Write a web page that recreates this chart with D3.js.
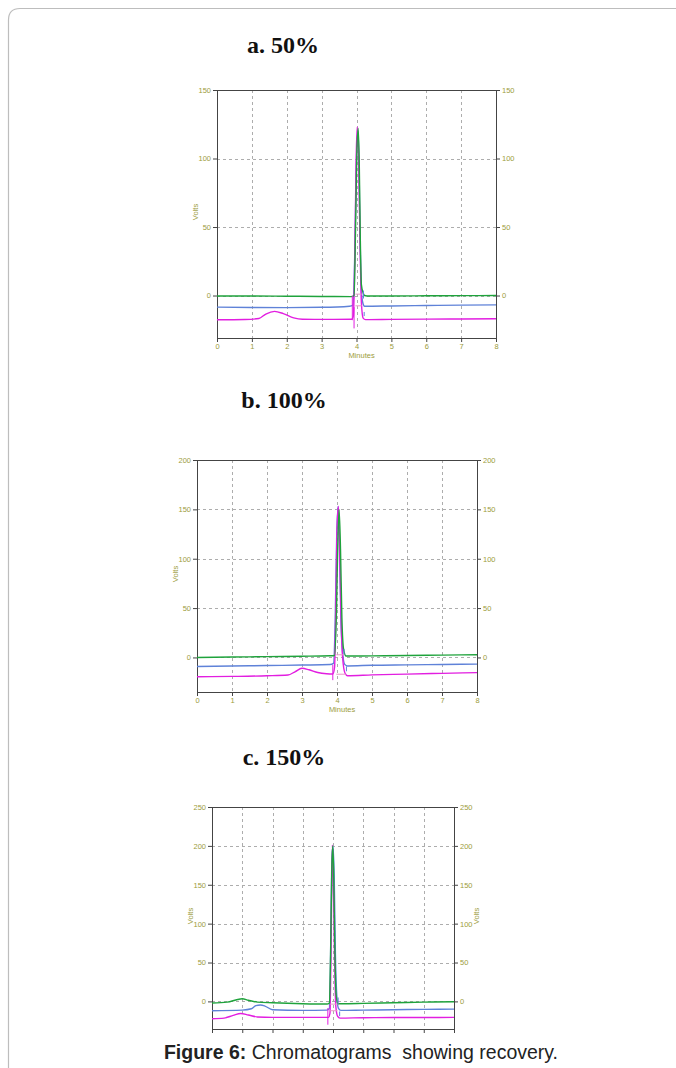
<!DOCTYPE html>
<html>
<head>
<meta charset="utf-8">
<script src="https://cdn.jsdelivr.net/npm/d3@7"></script>
<style>
  html, body { margin: 0; padding: 0; background: #fff; }
  svg { display: block; }
</style>
</head>
<body>
<svg id="fig" width="676" height="1068"></svg>
<script>
// ---- data (minutes, volts) ----
const minuteTicks = [0, 1, 2, 3, 4, 5, 6, 7, 8];
const titles = ["a. 50%", "b. 100%", "c. 150%"];
const voltTicksA = [0, 50, 100, 150];
const voltTicksB = [0, 50, 100, 150, 200];
const voltTicksC = [0, 50, 100, 150, 200, 250];

// a. 50%
const greenA = [[0,-0.3],[1,-0.3],[2,-0.5],[3,-0.7],[3.85,-0.8],[3.93,0],[3.97,45],[4.01,105],[4.05,122],[4.08,95],[4.11,40],[4.14,8],[4.19,2],[4.23,0],[4.3,-0.3],[5,-0.3],[6,-0.2],[7,-0.1],[8,0]];
const blueA = [[0,-8.5],[1,-8.7],[2,-8.8],[3,-8.6],[3.8,-7.8],[3.9,-7],[3.95,30],[4.0,100],[4.04,120],[4.07,100],[4.1,45],[4.13,10],[4.17,-4],[4.23,-7.8],[5,-7.6],[6,-7.3],[7,-7],[8,-6.8]];
const magentaA = [[0,-17.7],[0.8,-17.5],[1.2,-16.8],[1.4,-13.5],[1.65,-11.6],[1.9,-13.2],[2.2,-16.3],[2.45,-17.3],[3,-17.4],[3.86,-17.3],[3.91,-15],[3.95,25],[3.99,100],[4.02,123],[4.06,100],[4.1,40],[4.14,-5],[4.19,-16.5],[4.26,-17.6],[5,-17.4],[6,-17.2],[7,-17.1],[8,-17]];
const markersA = [
  { s: "magenta", x1: 3.88, y1: 0, x2: 3.88, y2: -18 },
  { s: "magenta", x1: 3.93, y1: -8.5, x2: 3.93, y2: -24 },
  { s: "blue", x1: 4.2, y1: 3.6, x2: 4.2, y2: -2.2 },
  { s: "blue", x1: 4.22, y1: -12, x2: 4.22, y2: -15 },
  { s: "pink", x1: 3.97, y1: 1, x2: 4.15, y2: 1 },
  { s: "pink", x1: 3.97, y1: -7.5, x2: 4.15, y2: -7.5 }
];

// b. 100%
const greenB = [[0,0],[1,0.4],[2,0.8],[3,1.2],[3.8,1.7],[3.93,2],[3.98,40],[4.02,110],[4.06,150],[4.1,110],[4.14,40],[4.19,8],[4.26,1.4],[5,1.6],[6,2],[7,2.4],[8,2.7]];
const blueB = [[0,-9.2],[1,-8.7],[2,-8.2],[3,-7.7],[3.8,-7.2],[3.9,-6],[3.95,40],[3.99,120],[4.03,153],[4.07,115],[4.11,40],[4.16,5],[4.22,-7],[4.3,-8.6],[5,-7.9],[6,-7.5],[7,-7.1],[8,-6.8]];
const magentaB = [[0,-19.5],[1,-19.2],[2,-18.6],[2.6,-17.8],[2.8,-14.5],[3.0,-11],[3.2,-12.5],[3.45,-15.2],[3.7,-16.5],[3.88,-16.8],[3.93,-10],[3.97,60],[4.0,130],[4.04,153],[4.07,120],[4.11,50],[4.16,0],[4.23,-16],[4.3,-18.5],[5,-17.7],[6,-16.9],[7,-16.1],[8,-15.4]];
const markersB = [
  { s: "magenta", x1: 3.88, y1: -7.5, x2: 3.88, y2: -23 },
  { s: "blue", x1: 4.2, y1: 8.6, x2: 4.2, y2: 2.7 },
  { s: "blue", x1: 4.27, y1: -9, x2: 4.27, y2: -14 },
  { s: "pink", x1: 3.98, y1: 2.7, x2: 4.2, y2: 2.7 },
  { s: "pink", x1: 3.98, y1: -17, x2: 4.25, y2: -17 }
];

// c. 150%
const greenC = [[0,-2.1],[0.5,-1],[0.85,2.5],[1.0,3.4],[1.2,1.5],[1.5,-0.9],[2,-1.8],[3,-3],[3.8,-3.4],[3.88,-2],[3.92,60],[3.96,170],[3.99,200],[4.02,170],[4.06,70],[4.1,10],[4.16,-3],[4.3,-3],[5,-2.6],[6,-1.8],[7,-1],[8,-0.4]];
const blueC = [[0,-12],[1,-11.2],[1.3,-9.5],[1.45,-5.5],[1.6,-4.7],[1.75,-6],[2.0,-10.7],[3,-11.6],[3.8,-11.2],[3.88,-9],[3.92,60],[3.96,180],[4.0,200],[4.04,160],[4.08,60],[4.13,5],[4.18,-9],[4.26,-11.6],[5,-11.2],[6,-10.7],[7,-10.3],[8,-9.9]];
const magentaC = [[0,-22.3],[0.4,-21.5],[0.7,-18],[0.95,-15.5],[1.2,-17.5],[1.5,-20],[2,-20.6],[3,-20.6],[3.85,-20.6],[3.9,-15],[3.94,80],[3.98,201],[4.01,160],[4.05,60],[4.09,-5],[4.15,-19],[4.23,-21.5],[5,-21],[6,-20.8],[7,-20.7],[8,-20.6]];
const markersC = [
  { s: "magenta", x1: 3.83, y1: -8.6, x2: 3.83, y2: -30 },
  { s: "blue", x1: 4.17, y1: 5, x2: 4.17, y2: -3.4 },
  { s: "blue", x1: 4.22, y1: -13, x2: 4.22, y2: -19 },
  { s: "pink", x1: 3.9, y1: -3.5, x2: 4.15, y2: -3.5 },
  { s: "pink", x1: 3.9, y1: -12, x2: 4.15, y2: -12 }
];

const colors = {
  green: "#1fa33c",
  blue: "#5f82d8",
  magenta: "#e21ee0",
  pink: "#e898c8"
};
const olive = "#9c9c3c";

const svg = d3.select("#fig");

// card border of the figure page
svg.append("path")
  .attr("d", "M8.5,1068 L8.5,20 Q8.5,8.5 20,8.5 L676,8.5")
  .attr("fill", "none")
  .attr("stroke", "#bdbdbd")
  .attr("stroke-width", 1.2);

function panel(cfg) {
  const x = d3.scaleLinear().domain([0, 8]).range([cfg.left, cfg.right]);
  const y = d3.scaleLinear().domain(cfg.yDomain).range([cfg.bottom, cfg.top]);
  const g = svg.append("g").attr("class", "panel");

  g.append("text")
    .attr("x", cfg.titleX)
    .attr("y", cfg.titleY)
    .attr("text-anchor", "middle")
    .attr("font-family", "'Liberation Serif', 'Times New Roman', serif")
    .attr("font-weight", "bold")
    .attr("font-size", "24px")
    .attr("fill", "#111")
    .text(cfg.title);

  // dashed grid
  g.append("g")
    .selectAll("line")
    .data(minuteTicks.slice(1, -1))
    .join("line")
    .attr("x1", (d) => Math.round(x(d)) + 0.5)
    .attr("x2", (d) => Math.round(x(d)) + 0.5)
    .attr("y1", cfg.top)
    .attr("y2", cfg.bottom)
    .attr("stroke", "#adadad")
    .attr("stroke-dasharray", "3,3");
  g.append("g")
    .selectAll("line")
    .data(cfg.yTicks.slice(0, -1))
    .join("line")
    .attr("x1", cfg.left)
    .attr("x2", cfg.right)
    .attr("y1", (d) => Math.round(y(d)) + 0.5)
    .attr("y2", (d) => Math.round(y(d)) + 0.5)
    .attr("stroke", "#adadad")
    .attr("stroke-dasharray", "3,3");

  // axes
  const styleAxis = (a) => {
    a.selectAll(".domain").attr("stroke", "#444");
    a.selectAll(".tick line").attr("stroke", "#444");
    a.selectAll(".tick text")
      .attr("fill", olive)
      .attr("font-family", "'Liberation Sans', Arial, sans-serif")
      .attr("font-size", "7.5px");
  };
  g.append("g")
    .attr("transform", `translate(${cfg.left},0)`)
    .call(d3.axisLeft(y).tickValues(cfg.yTicks).tickSize(4).tickSizeOuter(0).tickPadding(2))
    .call(styleAxis);
  g.append("g")
    .attr("transform", `translate(${cfg.right},0)`)
    .call(d3.axisRight(y).tickValues(cfg.yTicks).tickSize(4).tickSizeOuter(0).tickPadding(2))
    .call(styleAxis);
  g.append("g")
    .attr("transform", `translate(0,${cfg.bottom})`)
    .call(d3.axisBottom(x).tickValues(minuteTicks).tickSize(4).tickSizeOuter(0).tickPadding(2)
      .tickFormat(cfg.xLabels ? d3.format("d") : () => ""))
    .call(styleAxis);
  g.append("line")
    .attr("x1", cfg.left).attr("x2", cfg.right)
    .attr("y1", cfg.top + 0.5).attr("y2", cfg.top + 0.5)
    .attr("stroke", "#444");

  const label = (txt, tx, ty, rot) =>
    g.append("text")
      .attr("transform", `translate(${tx},${ty}) rotate(${rot})`)
      .attr("text-anchor", "middle")
      .attr("font-family", "'Liberation Sans', Arial, sans-serif")
      .attr("font-size", "7.5px")
      .attr("fill", olive)
      .text(txt);
  label("Volts", cfg.left - 19, (cfg.top + cfg.bottom) / 2 - 2, -90);
  if (cfg.rightVolts) label("Volts", cfg.right + 25, (cfg.top + cfg.bottom) / 2 - 2, -90);
  if (cfg.xLabels) label("Minutes", (cfg.left + cfg.right) / 2 + 5, cfg.bottom + 20, 0);

  const line = d3.line().x((d) => x(d[0])).y((d) => y(d[1])).curve(d3.curveMonotoneX);
  const traces = [
    ["blue", cfg.blue],
    ["magenta", cfg.magenta],
    ["green", cfg.green]
  ];
  g.append("g")
    .selectAll("path")
    .data(traces)
    .join("path")
    .attr("d", (d) => line(d[1]))
    .attr("fill", "none")
    .attr("stroke", (d) => colors[d[0]])
    .attr("stroke-width", 1.4);

  g.append("g")
    .selectAll("line")
    .data(cfg.markers)
    .join("line")
    .attr("x1", (d) => x(d.x1))
    .attr("x2", (d) => x(d.x2))
    .attr("y1", (d) => y(d.y1))
    .attr("y2", (d) => y(d.y2))
    .attr("stroke", (d) => colors[d.s])
    .attr("stroke-width", 1);
}

panel({
  title: titles[0], titleX: 283, titleY: 53,
  left: 217, right: 496, top: 90, bottom: 338, yDomain: [-31, 150],
  yTicks: voltTicksA, xLabels: true, rightVolts: false,
  green: greenA, blue: blueA, magenta: magentaA, markers: markersA
});
panel({
  title: titles[1], titleX: 284, titleY: 408,
  left: 197, right: 477, top: 460, bottom: 692, yDomain: [-35, 200],
  yTicks: voltTicksB, xLabels: true, rightVolts: false,
  green: greenB, blue: blueB, magenta: magentaB, markers: markersB
});
panel({
  title: titles[2], titleX: 284, titleY: 765,
  left: 212, right: 454, top: 807, bottom: 1029, yDomain: [-35.5, 250],
  yTicks: voltTicksC, xLabels: false, rightVolts: true,
  green: greenC, blue: blueC, magenta: magentaC, markers: markersC
});

// caption
const cap = svg.append("text")
  .attr("x", 361)
  .attr("y", 1059)
  .attr("text-anchor", "middle")
  .attr("font-family", "'Liberation Sans', Arial, sans-serif")
  .attr("font-size", "19.5px")
  .attr("fill", "#222");
cap.append("tspan").attr("font-weight", "bold").text("Figure 6:");
cap.append("tspan").attr("xml:space", "preserve").text(" Chromatograms\u00a0 showing recovery.");
</script>
</body>
</html>
